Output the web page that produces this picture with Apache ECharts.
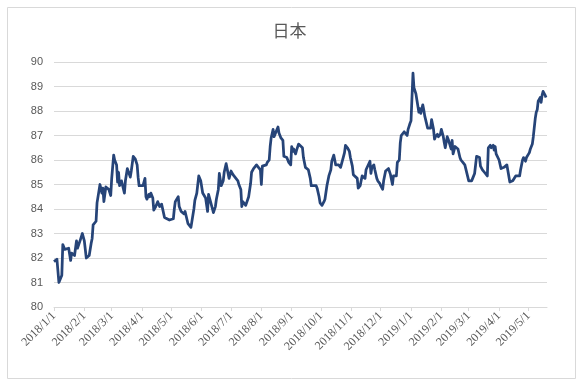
<!DOCTYPE html>
<html><head><meta charset="utf-8">
<script src="https://cdn.jsdelivr.net/npm/echarts@6/dist/echarts.min.js"></script>
<style>html,body{margin:0;padding:0;background:#fff}#c{width:579px;height:383px}</style>
</head><body><div id="c"></div>
<script>
var title = '日本';
var axisStart = '2018-01-01';
var axisEnd = '2019-05-20';
var yTicks = [80, 81, 82, 83, 84, 85, 86, 87, 88, 89, 90];
var dates = [
'2018-01-01','2018-01-04','2018-01-06','2018-01-09','2018-01-10','2018-01-12','2018-01-14','2018-01-16','2018-01-18','2018-01-19',
'2018-01-22','2018-01-24','2018-01-25','2018-01-28','2018-01-30','2018-02-01','2018-02-03','2018-02-05','2018-02-06','2018-02-08',
'2018-02-09','2018-02-10','2018-02-13','2018-02-14','2018-02-16','2018-02-17','2018-02-19','2018-02-20','2018-02-21','2018-02-23',
'2018-02-25','2018-02-26','2018-02-28','2018-03-01','2018-03-03','2018-03-04','2018-03-06','2018-03-07','2018-03-08','2018-03-09',
'2018-03-11','2018-03-13','2018-03-14','2018-03-15','2018-03-17','2018-03-19','2018-03-20','2018-03-21','2018-03-23','2018-03-25',
'2018-03-27','2018-03-28','2018-03-29','2018-03-31','2018-04-02','2018-04-04','2018-04-05','2018-04-06','2018-04-08','2018-04-09',
'2018-04-10','2018-04-12','2018-04-13','2018-04-15','2018-04-17','2018-04-18','2018-04-19','2018-04-21','2018-04-23','2018-04-24',
'2018-04-26','2018-04-29','2018-05-01','2018-05-03','2018-05-04','2018-05-05','2018-05-07','2018-05-08','2018-05-09','2018-05-11',
'2018-05-13','2018-05-14','2018-05-15','2018-05-17','2018-05-18','2018-05-20','2018-05-21','2018-05-23','2018-05-24','2018-05-25',
'2018-05-27','2018-05-28','2018-05-29','2018-05-31','2018-06-02','2018-06-04','2018-06-05','2018-06-07','2018-06-08','2018-06-10',
'2018-06-12','2018-06-13','2018-06-15','2018-06-16','2018-06-18','2018-06-19','2018-06-21','2018-06-23','2018-06-24','2018-06-26',
'2018-06-28','2018-06-29','2018-07-01','2018-07-03','2018-07-04','2018-07-06','2018-07-08','2018-07-09','2018-07-11','2018-07-12',
'2018-07-13','2018-07-15','2018-07-16','2018-07-18','2018-07-19','2018-07-21','2018-07-22','2018-07-24','2018-07-26','2018-07-27',
'2018-07-29','2018-07-31','2018-08-01','2018-08-02','2018-08-04','2018-08-06','2018-08-07','2018-08-09','2018-08-10','2018-08-11',
'2018-08-13','2018-08-14','2018-08-16','2018-08-18','2018-08-19','2018-08-21','2018-08-23','2018-08-24','2018-08-26','2018-08-27',
'2018-08-29','2018-08-31','2018-09-01','2018-09-02','2018-09-03','2018-09-05','2018-09-06','2018-09-08','2018-09-10','2018-09-12',
'2018-09-13','2018-09-15','2018-09-17','2018-09-18','2018-09-20','2018-09-21','2018-09-23','2018-09-26','2018-09-27','2018-09-29',
'2018-09-30','2018-10-02','2018-10-04','2018-10-05','2018-10-07','2018-10-09','2018-10-11','2018-10-12','2018-10-14','2018-10-16',
'2018-10-17','2018-10-19','2018-10-21','2018-10-22','2018-10-24','2018-10-25','2018-10-26','2018-10-28','2018-10-30','2018-10-31',
'2018-11-02','2018-11-03','2018-11-05','2018-11-07','2018-11-08','2018-11-10','2018-11-11','2018-11-12','2018-11-14','2018-11-15',
'2018-11-16','2018-11-18','2018-11-20','2018-11-21','2018-11-22','2018-11-24','2018-11-25','2018-11-27','2018-11-28','2018-11-30',
'2018-12-01','2018-12-03','2018-12-04','2018-12-06','2018-12-08','2018-12-09','2018-12-11','2018-12-13','2018-12-14','2018-12-17',
'2018-12-18','2018-12-20','2018-12-21','2018-12-22','2018-12-25','2018-12-26','2018-12-28','2018-12-29','2018-12-31','2019-01-01',
'2019-01-03','2019-01-04','2019-01-06','2019-01-07','2019-01-09','2019-01-10','2019-01-11','2019-01-13','2019-01-14','2019-01-15',
'2019-01-17','2019-01-18','2019-01-20','2019-01-21','2019-01-22','2019-01-24','2019-01-25','2019-01-26','2019-01-28','2019-01-29',
'2019-01-31','2019-02-01','2019-02-03','2019-02-04','2019-02-05','2019-02-07','2019-02-08','2019-02-10','2019-02-11','2019-02-12',
'2019-02-13','2019-02-15','2019-02-17','2019-02-18','2019-02-20','2019-02-21','2019-02-23','2019-02-25','2019-02-26','2019-02-27',
'2019-03-01','2019-03-02','2019-03-04','2019-03-05','2019-03-07','2019-03-09','2019-03-10','2019-03-12','2019-03-13','2019-03-15',
'2019-03-17','2019-03-19','2019-03-20','2019-03-21','2019-03-23','2019-03-24','2019-03-26','2019-03-27','2019-03-28','2019-03-29',
'2019-03-31','2019-04-01','2019-04-03','2019-04-04','2019-04-06','2019-04-08','2019-04-09','2019-04-11','2019-04-12','2019-04-13',
'2019-04-15','2019-04-17','2019-04-18','2019-04-20','2019-04-22','2019-04-23','2019-04-25','2019-04-26','2019-04-28','2019-04-29',
'2019-05-01','2019-05-02','2019-05-03','2019-05-05','2019-05-06','2019-05-08','2019-05-09','2019-05-10','2019-05-11','2019-05-13',
'2019-05-14','2019-05-15','2019-05-16','2019-05-18','2019-05-19'
];
var values = [
81.85,81.95,81.0,81.3,82.55,82.35,82.3,82.4,81.9,82.2,
82.1,82.7,82.4,82.75,83.0,82.7,82.0,82.0,82.1,82.6,
82.8,83.35,83.5,84.25,84.75,85.0,84.65,84.85,84.3,84.9,
84.95,84.8,84.55,85.25,86.2,86.0,85.8,85.1,85.5,84.95,
85.15,85.1,84.65,85.15,85.65,85.6,85.3,85.55,86.15,86.05,
85.8,85.3,84.95,84.95,84.95,85.25,84.5,84.4,84.6,84.5,
84.65,84.45,83.95,84.1,84.3,84.2,84.1,84.2,84.2,83.65,
83.6,83.55,83.55,83.6,84.0,84.3,84.25,84.5,84.1,83.9,
83.85,83.8,83.9,83.85,83.4,83.35,83.25,83.3,84.0,84.35,
84.65,84.7,85.35,85.15,84.65,84.6,84.45,83.9,84.6,84.3,
84.0,83.85,84.1,84.4,84.8,85.45,84.95,85.15,85.5,85.85,
85.9,85.25,85.55,85.4,85.4,85.25,85.15,85.0,84.8,84.1,
84.3,84.25,84.15,84.1,84.5,85.05,85.5,85.65,85.65,85.8,
85.7,85.6,85.0,85.75,85.75,85.8,85.9,86.0,86.55,86.9,
87.25,86.95,87.15,87.35,87.1,86.9,86.8,86.15,86.15,86.1,
85.9,85.8,86.55,86.35,86.45,86.25,86.4,86.65,86.65,86.5,
86.1,85.7,85.7,85.6,85.25,84.95,84.95,84.95,84.85,84.5,
84.25,84.15,84.3,84.4,84.95,85.35,85.6,85.95,86.2,85.8,
85.85,85.8,85.7,85.7,86.15,86.3,86.6,86.5,86.35,86.1,
85.75,85.4,85.4,85.25,84.85,84.95,85.15,85.35,85.35,85.25,
85.6,85.65,85.95,85.45,85.7,85.8,85.6,85.25,85.15,85.05,
84.95,84.8,85.15,85.55,85.6,85.65,85.4,85.0,85.35,85.35,
85.9,86.0,86.7,87.0,87.15,87.15,87.0,87.25,87.5,87.6,
89.55,88.95,88.7,88.45,87.95,88.1,87.9,88.25,88.05,87.8,
87.8,87.3,87.3,87.3,87.65,87.25,86.85,86.95,87.05,86.95,
87.05,87.25,86.95,86.7,86.5,86.95,86.85,86.8,86.45,86.8,
86.25,86.55,86.55,86.45,86.1,86.0,85.9,85.8,85.85,85.75,
85.15,85.1,85.15,85.25,85.45,86.15,86.15,86.1,85.75,85.6,
85.5,85.45,85.35,86.5,86.6,86.5,86.6,86.4,86.55,86.25,
86.2,86.0,85.65,85.6,85.7,85.75,85.8,85.8,85.1,85.1,
85.15,85.1,85.35,85.35,85.35,85.6,86.0,86.1,85.95,86.1,
86.15,86.3,86.45,86.65,86.95,87.7,87.95,88.05,88.4,88.55,
88.35,88.65,88.8,88.65,88.55
];

// build the day-by-day category list for the axis
function pad(n){return (n<10?'0':'')+n;}
var categories = [];
(function(){
  var d = new Date(axisStart + 'T00:00:00Z'), end = new Date(axisEnd + 'T00:00:00Z');
  while (d <= end) {
    categories.push(d.getUTCFullYear()+'-'+pad(d.getUTCMonth()+1)+'-'+pad(d.getUTCDate()));
    d.setUTCDate(d.getUTCDate()+1);
  }
})();
function isMonthStart(idx, val){ return /-01$/.test(val); }
function fmtDate(v){ var p = v.split('-'); return p[0]+'/'+(+p[1])+'/'+(+p[2]); }

var chart = echarts.init(document.getElementById('c'), null, {renderer:'canvas'});
chart.setOption({
  animation: false,
  backgroundColor: '#ffffff',
  title: {
    text: title, left: 'center', top: 17,
    textStyle: {fontFamily: '"Noto Sans CJK JP", sans-serif', fontSize: 17, fontWeight: 'normal', color: '#595959'}
  },
  graphic: [{
    type: 'rect', left: 5, top: 5, silent: true,
    shape: {width: 568, height: 371},
    style: {fill: 'none', stroke: '#d9d9d9', lineWidth: 1}
  }],
  grid: {left: 54, right: 32, top: 62, bottom: 76, containLabel: false},
  xAxis: {
    type: 'category', data: categories, boundaryGap: false,
    axisLine: {lineStyle: {color: '#d9d9d9', width: 1}},
    axisTick: {show: true, interval: isMonthStart, length: 4, lineStyle: {color: '#d9d9d9'}},
    axisLabel: {
      interval: isMonthStart, rotate: 45, margin: 7,
      formatter: fmtDate,
      fontFamily: '"Liberation Serif", serif', fontSize: 12, color: '#595959'
    },
    splitLine: {show: false}
  },
  yAxis: {
    type: 'value', min: yTicks[0], max: yTicks[yTicks.length-1], interval: 1,
    axisLine: {show: false}, axisTick: {show: false},
    axisLabel: {fontFamily: '"Liberation Sans", sans-serif', fontSize: 11, color: '#595959', margin: 11},
    splitLine: {lineStyle: {color: '#d9d9d9', width: 1}}
  },
  series: [{
    type: 'line', name: title,
    data: dates.map(function(d, i){ return [d, values[i]]; }),
    showSymbol: false, symbol: 'none', smooth: false,
    lineStyle: {color: '#264478', width: 2.75, join: 'round'}
  }]
});
</script>
</body></html>
